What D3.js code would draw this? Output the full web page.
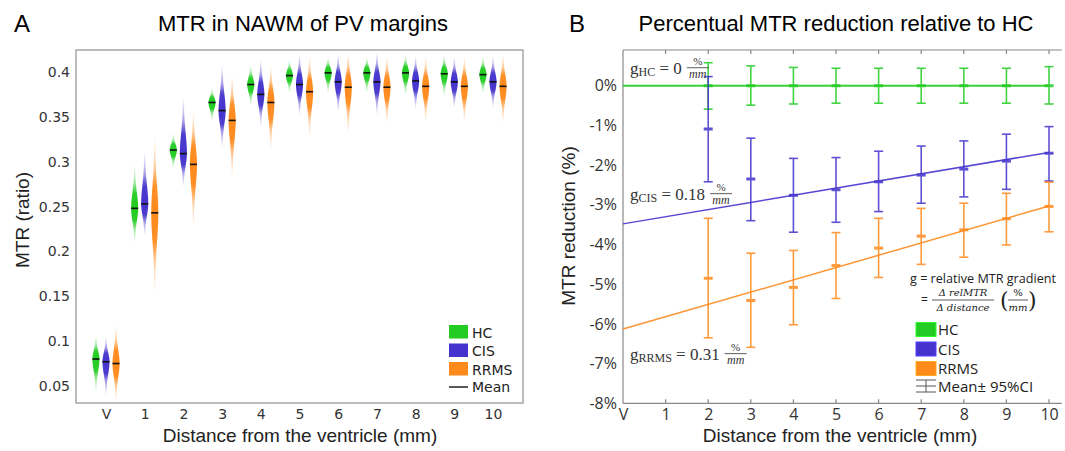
<!DOCTYPE html>
<html>
<head>
<meta charset="utf-8">
<script src="https://cdn.jsdelivr.net/npm/d3@7"></script>
<style>
  body { margin: 0; background: #fff; }
  svg { display: block; }
</style>
</head>
<body>
<svg id="chart" width="1065" height="451"></svg>
<script>
// ---- data: panel A (violins) ----
let distLabels = ["V","1","2","3","4","5","6","7","8","9","10"];
let distPos = [0,1,2,3,4,5,6,7,8,9,10];
let groups = ["HC","CIS","RRMS"];

let hcMean   = [0.080,0.248,0.313,0.366,0.386,0.396,0.399,0.399,0.399,0.398,0.397];
let hcLow    = [0.044,0.210,0.293,0.346,0.363,0.377,0.377,0.377,0.374,0.373,0.376];
let hcHigh   = [0.105,0.295,0.331,0.382,0.407,0.413,0.416,0.416,0.419,0.418,0.417];
let cisMean  = [0.077,0.253,0.309,0.357,0.375,0.386,0.389,0.389,0.390,0.389,0.389];
let cisLow   = [0.040,0.218,0.273,0.316,0.340,0.352,0.356,0.353,0.359,0.360,0.361];
let cisHigh  = [0.104,0.310,0.371,0.408,0.413,0.419,0.419,0.421,0.417,0.416,0.417];
let rrmsMean = [0.075,0.243,0.297,0.346,0.366,0.378,0.383,0.383,0.384,0.384,0.384];
let rrmsLow  = [0.034,0.155,0.229,0.283,0.314,0.328,0.333,0.343,0.345,0.345,0.344];
let rrmsHigh = [0.117,0.326,0.356,0.395,0.406,0.417,0.421,0.417,0.416,0.416,0.419];
let yTicksA = [0.05,0.1,0.15,0.2,0.25,0.3,0.35,0.4];

// ---- data: panel B (relative reduction, %) ----
let ciPos = [2,3,4,5,6,7,8,9,10];
let hcRed     = [0,0,0,0,0,0,0,0,0];
let hcRedLo   = [-0.59,-0.49,-0.46,-0.44,-0.44,-0.44,-0.44,-0.44,-0.46];
let hcRedHi   = [0.58,0.50,0.46,0.44,0.44,0.44,0.44,0.44,0.48];
let cisRed    = [-1.09,-2.35,-2.76,-2.62,-2.42,-2.25,-2.10,-1.90,-1.70];
let cisRedLo  = [-2.42,-3.40,-3.69,-3.44,-3.17,-2.96,-2.80,-2.61,-2.40];
let cisRedHi  = [0.23,-1.32,-1.83,-1.81,-1.65,-1.52,-1.39,-1.22,-1.03];
let rrmsRed   = [-4.85,-5.41,-5.08,-4.53,-4.09,-3.79,-3.63,-3.35,-3.04];
let rrmsRedLo = [-6.35,-6.59,-6.02,-5.36,-4.83,-4.50,-4.32,-4.01,-3.68];
let rrmsRedHi = [-3.34,-4.22,-4.15,-3.70,-3.34,-3.09,-2.96,-2.71,-2.43];
let fitIntercept = [0, -3.48, -6.13];
let fitSlope     = [0, 0.18, 0.31];
let slopeLabels  = ["0", "0.18", "0.31"];
let yTicksB = [0,-1,-2,-3,-4,-5,-6,-7,-8];

let colors = {HC: "#22cc22", CIS: "#4433cc", RRMS: "#ff8a1c"};

let svg = d3.select("#chart");
let defs = svg.append("defs");

// ================= Panel A =================
let xA = d3.scaleLinear().domain([-0.775, 10.775]).range([76, 523]);
let yA = d3.scaleLinear().domain([0.031, 0.4245]).range([403, 50]);
let offA = {HC: -0.26, CIS: 0, RRMS: 0.26};

svg.append("text").attr("x", 14).attr("y", 32)
  .style("font", "24px 'Liberation Sans', Arial, sans-serif").text("A");
svg.append("text").attr("x", 303).attr("y", 31).attr("text-anchor", "middle")
  .style("font", "22px 'Liberation Sans', Arial, sans-serif").text("MTR in NAWM of PV margins");

svg.append("rect").attr("x", 76).attr("y", 50).attr("width", 447).attr("height", 353)
  .attr("fill", "none").attr("stroke", "#999").attr("stroke-width", 1.3);

let axA = svg.append("g").attr("transform", "translate(76,0)")
  .call(d3.axisLeft(yA).tickValues(yTicksA).tickSize(0).tickPadding(6).tickFormat(d3.format("~g")));
axA.select(".domain").remove();
axA.selectAll("text").style("font", "14px 'DejaVu Sans', sans-serif").attr("fill", "#333");

let axAx = svg.append("g").attr("transform", "translate(0,403)")
  .call(d3.axisBottom(xA).tickValues(distPos).tickSize(0).tickPadding(6).tickFormat((d, i) => distLabels[i]));
axAx.select(".domain").remove();
axAx.selectAll("text").style("font", "14px 'DejaVu Sans', sans-serif").attr("fill", "#333");

svg.append("text").attr("x", 300).attr("y", 442).attr("text-anchor", "middle")
  .style("font", "19px 'Liberation Sans', Arial, sans-serif").attr("fill", "#222")
  .text("Distance from the ventricle (mm)");
svg.append("text").attr("transform", "translate(29,220) rotate(-90)").attr("text-anchor", "middle")
  .style("font", "19px 'Liberation Sans', Arial, sans-serif").attr("fill", "#222")
  .text("MTR (ratio)");

let violinData = [];
distPos.forEach((p, i) => {
  violinData.push({g: "HC",   p, mean: hcMean[i],   lo: hcLow[i],   hi: hcHigh[i]});
  violinData.push({g: "CIS",  p, mean: cisMean[i],  lo: cisLow[i],  hi: cisHigh[i]});
  violinData.push({g: "RRMS", p, mean: rrmsMean[i], lo: rrmsLow[i], hi: rrmsHigh[i]});
});

// violin outline: smooth bump around the mean, thin tails to the extremes
function violinPoints(d) {
  let pts = [];
  let n = 40;
  for (let k = 0; k <= n; k++) {
    let v = d.lo + (d.hi - d.lo) * k / n;
    let s = v >= d.mean ? (d.hi - d.mean) / 2.8 : (d.mean - d.lo) / 2.8;
    let w = 3.1 * Math.exp(-0.5 * Math.pow((v - d.mean) / s, 2)) + 0.45;
    pts.push({v, w});
  }
  return pts;
}

let vg = svg.append("g");
violinData.forEach((d, i) => {
  let cx = xA(d.p + offA[d.g]);
  let id = "vgrad" + i;
  let y0 = yA(d.hi), y1 = yA(d.lo);
  let fr = v => (yA(v) - y0) / (y1 - y0);
  let grad = defs.append("linearGradient").attr("id", id)
    .attr("gradientUnits", "userSpaceOnUse")
    .attr("x1", 0).attr("x2", 0).attr("y1", y0).attr("y2", y1);
  [[d.hi, 0.03], [d.mean + 0.6 * (d.hi - d.mean), 0.45], [d.mean + 0.35 * (d.hi - d.mean), 0.95], [d.mean, 1],
   [d.mean - 0.35 * (d.mean - d.lo), 0.95], [d.mean - 0.6 * (d.mean - d.lo), 0.45], [d.lo, 0.03]].forEach(s => {
    grad.append("stop").attr("offset", fr(s[0])).attr("stop-color", colors[d.g]).attr("stop-opacity", s[1]);
  });
  let area = d3.area().curve(d3.curveBasis)
    .y(p => yA(p.v)).x0(p => cx - p.w).x1(p => cx + p.w);
  vg.append("path").attr("d", area(violinPoints(d))).attr("fill", "url(#" + id + ")");
  vg.append("line").attr("x1", cx - 3.5).attr("x2", cx + 3.5)
    .attr("y1", yA(d.mean)).attr("y2", yA(d.mean))
    .attr("stroke", "#111").attr("stroke-width", 1.6);
});

// legend A
let legA = svg.append("g").attr("transform", "translate(449,325)");
groups.forEach((g, i) => {
  legA.append("rect").attr("x", 0).attr("y", i * 18.5).attr("width", 19).attr("height", 13.5)
    .attr("fill", colors[g]);
  legA.append("text").attr("x", 23).attr("y", i * 18.5 + 12.5).text(g)
    .style("font", "14px 'DejaVu Sans', sans-serif").attr("fill", "#222");
});
legA.append("line").attr("x1", 0).attr("x2", 19).attr("y1", 62).attr("y2", 62)
  .attr("stroke", "#222").attr("stroke-width", 1.5);
legA.append("text").attr("x", 23).attr("y", 67).text("Mean")
  .style("font", "14px 'DejaVu Sans', sans-serif").attr("fill", "#222");

// ================= Panel B =================
let xB = d3.scaleLinear().domain([0, 10.3]).range([623, 1061.8]);
let yB = d3.scaleLinear().domain([-8, 0.9]).range([403.3, 50]);

svg.append("text").attr("x", 569).attr("y", 32)
  .style("font", "24px 'Liberation Sans', Arial, sans-serif").text("B");
svg.append("text").attr("x", 836).attr("y", 31).attr("text-anchor", "middle")
  .style("font", "22px 'Liberation Sans', Arial, sans-serif").text("Percentual MTR reduction relative to HC");

let frame = svg.append("g").attr("stroke", "#888").attr("stroke-width", 1.2);
frame.append("line").attr("x1", xB(0)).attr("x2", xB(10.3)).attr("y1", yB(0.9)).attr("y2", yB(0.9));
frame.append("line").attr("x1", xB(0)).attr("x2", xB(10.3)).attr("y1", yB(-8)).attr("y2", yB(-8));
frame.append("line").attr("x1", xB(0)).attr("x2", xB(0)).attr("y1", yB(0.9)).attr("y2", yB(-8));
distPos.slice(1).forEach(p => {
  frame.append("line").attr("x1", xB(p)).attr("x2", xB(p)).attr("y1", yB(0.9)).attr("y2", yB(0.9) + 4);
  frame.append("line").attr("x1", xB(p)).attr("x2", xB(p)).attr("y1", yB(-8)).attr("y2", yB(-8) - 4);
});

let axB = svg.append("g").attr("transform", "translate(623,0)")
  .call(d3.axisLeft(yB).tickValues(yTicksB).tickSize(0).tickPadding(6).tickFormat(d => d + "%"));
axB.select(".domain").remove();
axB.selectAll("text").style("font", "16px 'Open Sans', sans-serif").attr("fill", "#333");

let axBx = svg.append("g").attr("transform", "translate(0,403.3)")
  .call(d3.axisBottom(xB).tickValues(distPos).tickSize(0).tickPadding(5).tickFormat((d, i) => distLabels[i]));
axBx.select(".domain").remove();
axBx.selectAll("text").style("font", "16px 'Open Sans', sans-serif").attr("fill", "#333");

svg.append("text").attr("x", 840).attr("y", 442).attr("text-anchor", "middle")
  .style("font", "19px 'Liberation Sans', Arial, sans-serif").attr("fill", "#222")
  .text("Distance from the ventricle (mm)");
svg.append("text").attr("transform", "translate(575,226) rotate(-90)").attr("text-anchor", "middle")
  .style("font", "19px 'Liberation Sans', Arial, sans-serif").attr("fill", "#222")
  .text("MTR reduction (%)");

let seriesB = [
  {g: "HC",   m: hcRed,   lo: hcRedLo,   hi: hcRedHi},
  {g: "CIS",  m: cisRed,  lo: cisRedLo,  hi: cisRedHi},
  {g: "RRMS", m: rrmsRed, lo: rrmsRedLo, hi: rrmsRedHi}
];

// fit lines
seriesB.forEach((s, k) => {
  let line = d3.line().x(d => xB(d)).y(d => yB(fitIntercept[k] + fitSlope[k] * d));
  svg.append("path").attr("d", line([0, 10])).attr("fill", "none")
    .attr("stroke", colors[s.g]).attr("stroke-width", k === 0 ? 2 : 1.5).attr("opacity", 0.9);
});

// error bars
seriesB.forEach(s => {
  let eg = svg.append("g").attr("stroke", colors[s.g]).attr("opacity", 0.85);
  ciPos.forEach((p, i) => {
    let x = xB(p);
    eg.append("line").attr("x1", x).attr("x2", x).attr("y1", yB(s.hi[i])).attr("y2", yB(s.lo[i])).attr("stroke-width", 1.6);
    eg.append("line").attr("x1", x - 4.5).attr("x2", x + 4.5).attr("y1", yB(s.hi[i])).attr("y2", yB(s.hi[i])).attr("stroke-width", 1.6);
    eg.append("line").attr("x1", x - 4.5).attr("x2", x + 4.5).attr("y1", yB(s.lo[i])).attr("y2", yB(s.lo[i])).attr("stroke-width", 1.6);
    eg.append("line").attr("x1", x - 4.5).attr("x2", x + 4.5).attr("y1", yB(s.m[i])).attr("y2", yB(s.m[i])).attr("stroke-width", 3);
  });
});

// slope annotations
function gradLabel(x, y, sub, val) {
  let t = svg.append("g").attr("transform", "translate(" + x + "," + y + ")")
    .style("font-family", "'Liberation Serif', 'DejaVu Serif', serif").attr("fill", "#333");
  let txt = t.append("text").style("font-size", "17px");
  txt.append("tspan").text("g");
  txt.append("tspan").style("font-size", "12px").attr("dy", 2).text(sub);
  txt.append("tspan").attr("dy", -2).text(" = " + val);
  let w = txt.node().getComputedTextLength() + 5;
  t.append("text").attr("x", w + 11).attr("y", -9).attr("text-anchor", "middle").style("font-size", "11px").text("%");
  t.append("line").attr("x1", w).attr("x2", w + 22).attr("y1", -6).attr("y2", -6).attr("stroke", "#333").attr("stroke-width", 0.8);
  t.append("text").attr("x", w + 11).attr("y", 4).attr("text-anchor", "middle")
    .style("font-size", "12px").style("font-style", "italic").text("mm");
}
gradLabel(xB(0) + 7, yB(0) - 12, "HC", slopeLabels[0]);
gradLabel(xB(0) + 7, yB(-2.87), "CIS", slopeLabels[1]);
gradLabel(xB(0) + 7, yB(-6.9), "RRMS", slopeLabels[2]);

// legend B
let legB = svg.append("g").attr("transform", "translate(910,0)").attr("fill", "#222");
legB.append("text").attr("x", 0).attr("y", 283).style("font", "13px 'Open Sans', sans-serif")
  .attr("textLength", 146).attr("lengthAdjust", "spacingAndGlyphs")
  .text("g = relative MTR gradient");
legB.append("text").attr("x", 11).attr("y", 304).style("font", "12px 'Open Sans', sans-serif").text("=");
let fr1 = legB.append("g").style("font-family", "'DejaVu Serif', serif").style("font-style", "italic").style("font-size", "10px");
fr1.append("text").attr("x", 53).attr("y", 296).attr("text-anchor", "middle").text("\u0394 relMTR");
fr1.append("line").attr("x1", 22).attr("x2", 84).attr("y1", 300).attr("y2", 300).attr("stroke", "#333").attr("stroke-width", 0.8);
fr1.append("text").attr("x", 53).attr("y", 311).attr("text-anchor", "middle").text("\u0394 distance");
legB.append("text").attr("x", 90).attr("y", 308).style("font", "22px 'DejaVu Serif', serif").style("font-weight", "200").text("(");
legB.append("text").attr("x", 118).attr("y", 308).style("font", "22px 'DejaVu Serif', serif").style("font-weight", "200").text(")");
legB.append("text").attr("x", 108).attr("y", 296).attr("text-anchor", "middle").style("font", "10px 'DejaVu Serif', serif").text("%");
legB.append("line").attr("x1", 98).attr("x2", 118).attr("y1", 300).attr("y2", 300).attr("stroke", "#333").attr("stroke-width", 0.8);
legB.append("text").attr("x", 108).attr("y", 311).attr("text-anchor", "middle").style("font", "italic 10px 'DejaVu Serif', serif").text("mm");

groups.forEach((g, i) => {
  legB.append("rect").attr("x", 6).attr("y", 322.5 + i * 19.5).attr("width", 20).attr("height", 14)
    .attr("fill", colors[g]).attr("stroke", d3.color(colors[g]).brighter(0.6)).attr("stroke-width", 1);
  legB.append("text").attr("x", 28).attr("y", 335 + i * 19.5).text(g)
    .style("font", "15px 'Open Sans', sans-serif");
});
let ic = legB.append("g").attr("stroke", "#555").attr("stroke-width", 1);
ic.append("line").attr("x1", 6).attr("x2", 26).attr("y1", 380).attr("y2", 380);
ic.append("line").attr("x1", 6).attr("x2", 26).attr("y1", 386).attr("y2", 386);
ic.append("line").attr("x1", 6).attr("x2", 26).attr("y1", 392).attr("y2", 392);
ic.append("line").attr("x1", 16).attr("x2", 16).attr("y1", 380).attr("y2", 392);
legB.append("text").attr("x", 28).attr("y", 392).text("Mean\u00b1 95%CI")
  .style("font", "15px 'Open Sans', sans-serif");
</script>
</body>
</html>
